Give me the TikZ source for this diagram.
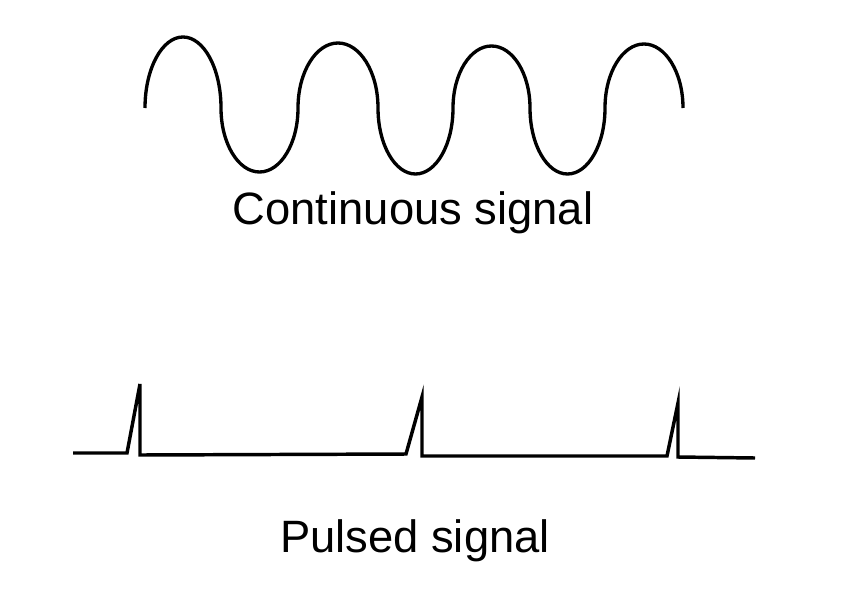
\documentclass[tikz,border=0pt]{standalone}
\usepackage{fontspec}
\setmainfont{Liberation Sans}
\begin{document}
\begin{tikzpicture}[x=0.75pt,y=-0.75pt,
  wave/.style={line width=2.5pt,line join=round,line cap=butt},
  pulse/.style={line width=2.6pt,line join=miter},
  caption/.style={anchor=base,inner sep=0pt,font=\fontsize{34}{40}\selectfont}]
\useasboundingbox (0,0) rectangle (848,589);
% continuous signal: alternating half-ellipses
\coordinate (w0) at (145,108);
\draw[wave] (w0)
  arc[start angle=180,end angle=360,x radius=38,y radius=71]
  arc[start angle=180,end angle=0,x radius=38.5,y radius=64]
  arc[start angle=180,end angle=360,x radius=40,y radius=65]
  arc[start angle=180,end angle=0,x radius=37.5,y radius=66]
  arc[start angle=180,end angle=360,x radius=38.5,y radius=62]
  arc[start angle=180,end angle=0,x radius=37.5,y radius=66]
  arc[start angle=180,end angle=360,x radius=39,y radius=64];
\node[caption] (ct) at (413,224) {Continuous signal};
% pulsed signal
\coordinate (s0) at (73,453);
\coordinate (r1) at (127,453);
\coordinate (p1) at (140,384);
\coordinate (d1) at (140,455);
\coordinate (r2) at (406,454);
\coordinate (p2) at (422,397);
\coordinate (d2) at (422,456);
\coordinate (r3) at (667,456);
\coordinate (p3) at (678,403);
\coordinate (d3) at (678,457);
\coordinate (e0) at (755,458);
\draw[pulse] (s0) -- (r1) -- (p1) -- (d1) -- (r2) -- (p2) -- (d2) -- (r3) -- (p3) -- (d3) -- (e0);
\node[caption] (pt) at (415,552) {Pulsed signal};
\end{tikzpicture}
\end{document}
